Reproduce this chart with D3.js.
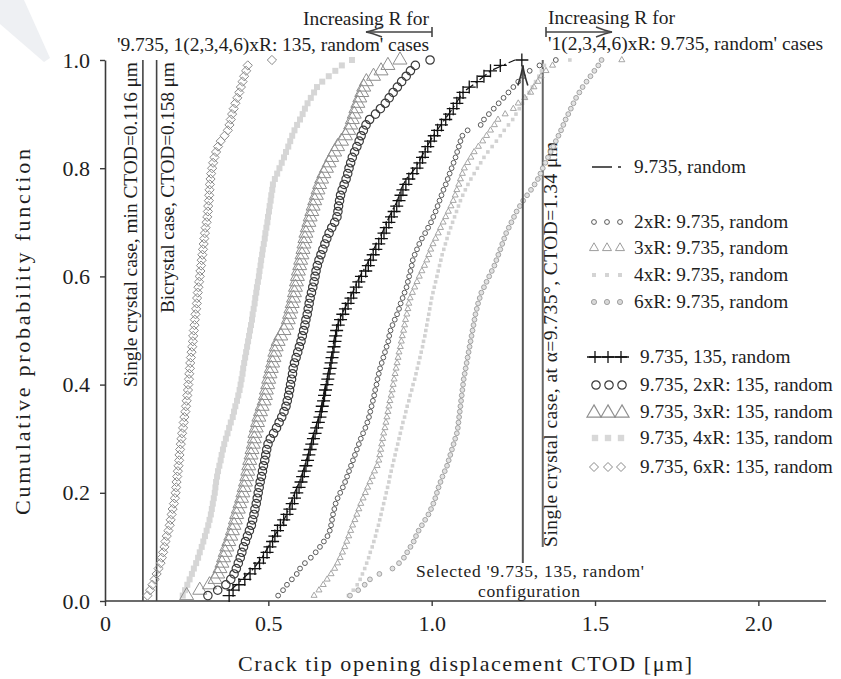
<!DOCTYPE html>
<html><head><meta charset="utf-8">
<script src="https://cdn.jsdelivr.net/npm/d3@7"></script>
<style>
body{margin:0;background:#fff}
svg{display:block}
text{font-family:"Liberation Serif","DejaVu Serif",serif;fill:#1e1e1e}
</style>
</head><body>
<svg id="c" width="841" height="679"></svg>
<script>
// ---------------- data ----------------
const xTicks = [0, 0.5, 1.0, 1.5, 2.0];
const yTicks = [0, 0.2, 0.4, 0.6, 0.8, 1.0];

// CTOD samples (sorted) per configuration; the CDF of sample i is (i+1)/n
const s6xR135 = [0.130,0.138,0.145,0.152,0.158,0.164,0.170,0.174,0.178,0.182,0.185,0.189,0.194,0.198,0.201,0.204,0.207,0.211,0.214,0.216,0.218,0.219,0.221,0.223,0.225,0.227,0.228,0.230,0.232,0.234,0.236,0.239,0.241,0.243,0.246,0.248,0.250,0.252,0.254,0.255,0.257,0.258,0.260,0.261,0.263,0.265,0.267,0.269,0.270,0.272,0.274,0.275,0.277,0.279,0.281,0.282,0.284,0.286,0.288,0.290,0.292,0.294,0.296,0.298,0.300,0.302,0.304,0.306,0.308,0.311,0.313,0.315,0.316,0.318,0.319,0.320,0.321,0.323,0.325,0.328,0.331,0.335,0.340,0.346,0.354,0.366,0.376,0.381,0.385,0.389,0.394,0.399,0.405,0.411,0.416,0.421,0.426,0.432,0.437,0.511];
const s4xR135 = [0.238,0.245,0.252,0.259,0.266,0.272,0.279,0.285,0.290,0.296,0.301,0.306,0.311,0.316,0.320,0.324,0.327,0.330,0.333,0.336,0.338,0.340,0.343,0.346,0.350,0.354,0.357,0.361,0.365,0.370,0.375,0.380,0.385,0.391,0.395,0.399,0.404,0.408,0.412,0.415,0.418,0.421,0.423,0.426,0.429,0.432,0.435,0.438,0.441,0.444,0.447,0.450,0.452,0.455,0.458,0.460,0.463,0.465,0.468,0.471,0.473,0.476,0.478,0.481,0.483,0.486,0.489,0.491,0.494,0.497,0.499,0.502,0.504,0.507,0.509,0.512,0.514,0.520,0.527,0.534,0.541,0.548,0.554,0.561,0.567,0.573,0.580,0.588,0.597,0.605,0.612,0.620,0.630,0.640,0.649,0.665,0.685,0.705,0.725,0.756];
const s3xR135 = [0.250,0.290,0.320,0.337,0.345,0.352,0.358,0.363,0.368,0.373,0.379,0.385,0.390,0.395,0.399,0.403,0.408,0.413,0.418,0.422,0.426,0.430,0.434,0.437,0.440,0.443,0.447,0.450,0.454,0.457,0.459,0.463,0.467,0.471,0.476,0.481,0.487,0.491,0.494,0.498,0.501,0.505,0.509,0.513,0.517,0.520,0.524,0.530,0.538,0.548,0.556,0.561,0.565,0.569,0.573,0.577,0.580,0.583,0.586,0.589,0.592,0.596,0.599,0.603,0.606,0.609,0.612,0.615,0.619,0.624,0.628,0.633,0.637,0.642,0.647,0.652,0.657,0.663,0.670,0.678,0.686,0.694,0.703,0.712,0.724,0.736,0.746,0.752,0.757,0.763,0.768,0.774,0.780,0.786,0.792,0.800,0.822,0.845,0.866,0.903];
const s2xR135 = [0.315,0.345,0.370,0.385,0.395,0.402,0.408,0.414,0.419,0.424,0.430,0.436,0.442,0.448,0.452,0.456,0.459,0.463,0.466,0.469,0.472,0.475,0.479,0.482,0.485,0.489,0.492,0.495,0.499,0.506,0.516,0.525,0.533,0.541,0.548,0.554,0.558,0.562,0.565,0.568,0.571,0.574,0.576,0.580,0.585,0.590,0.595,0.600,0.604,0.608,0.612,0.615,0.619,0.622,0.625,0.628,0.632,0.636,0.640,0.643,0.646,0.650,0.655,0.661,0.667,0.673,0.679,0.686,0.694,0.703,0.710,0.713,0.715,0.718,0.721,0.726,0.732,0.738,0.743,0.747,0.752,0.757,0.764,0.771,0.778,0.784,0.791,0.799,0.810,0.828,0.843,0.858,0.870,0.882,0.895,0.908,0.922,0.935,0.950,0.995];
const s135 = [0.380,0.392,0.410,0.428,0.444,0.459,0.473,0.485,0.496,0.505,0.513,0.520,0.528,0.537,0.547,0.557,0.566,0.573,0.580,0.587,0.594,0.600,0.605,0.610,0.615,0.620,0.624,0.628,0.633,0.638,0.643,0.648,0.653,0.658,0.662,0.665,0.669,0.672,0.675,0.679,0.682,0.686,0.689,0.692,0.695,0.698,0.701,0.704,0.706,0.709,0.714,0.721,0.728,0.736,0.744,0.753,0.761,0.769,0.777,0.785,0.798,0.806,0.813,0.821,0.829,0.838,0.846,0.854,0.861,0.869,0.877,0.885,0.893,0.900,0.906,0.912,0.921,0.930,0.942,0.955,0.964,0.972,0.980,0.988,0.997,1.008,1.018,1.030,1.043,1.055,1.066,1.077,1.086,1.096,1.115,1.139,1.160,1.180,1.210,1.276];
const sRandom = [0.385,0.420,0.455,0.480,0.500,0.518,0.540,0.556,0.568,0.580,0.595,0.606,0.616,0.626,0.634,0.644,0.654,0.662,0.668,0.675,0.682,0.689,0.695,0.700,0.706,0.718,0.733,0.750,0.765,0.780,0.800,0.815,0.830,0.848,0.862,0.878,0.895,0.905,0.922,0.950,0.968,0.985,1.005,1.028,1.052,1.075,1.095,1.140,1.180,1.255];
const s2xR9735 = [0.530,0.545,0.557,0.572,0.587,0.597,0.612,0.630,0.645,0.658,0.670,0.681,0.688,0.692,0.695,0.698,0.702,0.706,0.712,0.720,0.728,0.735,0.741,0.747,0.753,0.759,0.765,0.771,0.777,0.783,0.790,0.797,0.803,0.808,0.812,0.816,0.820,0.824,0.827,0.831,0.834,0.838,0.842,0.847,0.852,0.857,0.862,0.867,0.870,0.874,0.880,0.887,0.894,0.900,0.905,0.911,0.917,0.923,0.927,0.931,0.935,0.939,0.942,0.948,0.955,0.962,0.970,0.980,0.989,0.998,1.005,1.012,1.018,1.024,1.030,1.036,1.043,1.049,1.055,1.061,1.067,1.073,1.078,1.083,1.088,1.094,1.110,1.150,1.160,1.175,1.190,1.205,1.220,1.235,1.250,1.265,1.280,1.300,1.330,1.380];
const s3xR9735 = [0.640,0.655,0.668,0.680,0.692,0.703,0.712,0.720,0.727,0.734,0.740,0.746,0.752,0.758,0.765,0.771,0.777,0.783,0.790,0.797,0.804,0.811,0.818,0.825,0.833,0.838,0.841,0.844,0.847,0.850,0.853,0.857,0.860,0.863,0.866,0.869,0.872,0.876,0.879,0.882,0.885,0.888,0.891,0.894,0.897,0.900,0.904,0.907,0.910,0.914,0.917,0.920,0.924,0.927,0.930,0.934,0.941,0.948,0.955,0.962,0.970,0.978,0.985,0.991,0.997,1.004,1.012,1.020,1.027,1.035,1.043,1.051,1.059,1.066,1.072,1.077,1.083,1.088,1.094,1.100,1.110,1.120,1.130,1.143,1.156,1.168,1.180,1.192,1.203,1.225,1.250,1.265,1.285,1.303,1.313,1.325,1.335,1.350,1.370,1.582];
const s4xR9735 = [0.745,0.760,0.772,0.781,0.788,0.795,0.801,0.807,0.812,0.818,0.823,0.828,0.832,0.837,0.841,0.845,0.849,0.853,0.857,0.861,0.865,0.869,0.872,0.876,0.880,0.884,0.888,0.892,0.896,0.900,0.904,0.908,0.912,0.917,0.921,0.925,0.930,0.934,0.939,0.943,0.948,0.952,0.956,0.960,0.964,0.968,0.972,0.975,0.979,0.982,0.985,0.988,0.991,0.994,0.997,1.000,1.004,1.008,1.012,1.016,1.020,1.024,1.028,1.032,1.037,1.042,1.047,1.052,1.058,1.064,1.070,1.076,1.082,1.088,1.095,1.103,1.111,1.120,1.130,1.140,1.150,1.160,1.172,1.185,1.198,1.210,1.222,1.235,1.248,1.258,1.268,1.278,1.288,1.298,1.308,1.318,1.328,1.336,1.345,1.423];
const s6xR9735 = [0.750,0.775,0.795,0.811,0.840,0.880,0.900,0.915,0.925,0.935,0.945,0.952,0.960,0.970,0.980,0.990,0.998,1.005,1.011,1.016,1.021,1.027,1.033,1.040,1.047,1.052,1.057,1.062,1.067,1.072,1.077,1.080,1.082,1.084,1.086,1.088,1.090,1.092,1.094,1.096,1.098,1.101,1.104,1.107,1.110,1.113,1.116,1.119,1.122,1.125,1.128,1.131,1.134,1.138,1.142,1.147,1.152,1.160,1.168,1.176,1.184,1.192,1.198,1.204,1.210,1.216,1.222,1.228,1.236,1.244,1.252,1.260,1.270,1.280,1.292,1.304,1.315,1.325,1.333,1.340,1.348,1.356,1.364,1.372,1.380,1.388,1.396,1.403,1.410,1.418,1.426,1.434,1.442,1.452,1.462,1.474,1.486,1.498,1.510,1.520];

// reference vertical lines
const refLines = [
  {v:0.116, label:"Single crystal case, min CTOD=0.116 \u03BCm"},
  {v:0.158, label:"Bicrystal case, CTOD=0.158 \u03BCm"},
  {v:1.34,  label:"Single crystal case, at \u03B1=9.735\u00B0, CTOD=1.34 \u03BCm"}
];
const selectedCTOD = 1.279;

const legendLabels1 = ["9.735, random","2xR: 9.735, random","3xR: 9.735, random","4xR: 9.735, random","6xR: 9.735, random"];
const legendLabels2 = ["9.735, 135, random","9.735, 2xR: 135, random","9.735, 3xR: 135, random","9.735, 4xR: 135, random","9.735, 6xR: 135, random"];

// ---------------- drawing ----------------
const svg = d3.select("#c");
const x = d3.scaleLinear().domain([0, 2.2]).range([105, 823.7]);
const y = d3.scaleLinear().domain([0, 1]).range([601, 60]);

// faint page shading at the top-left corner
svg.append("path").attr("d","M0,0L24,0L50,58L44,62L0,24Z").attr("fill","#eef0f3");

function markerPath(type, s){
  if(type==="plus") return `M${-s},0H${s}M0,${-s}V${s}`;
  if(type==="circle") return `M${-s},0a${s},${s} 0 1,0 ${2*s},0a${s},${s} 0 1,0 ${-2*s},0Z`;
  if(type==="tri"){const h=s*Math.sqrt(3)/2;return `M0,${-2*h/3}L${s/2},${h/3}L${-s/2},${h/3}Z`;}
  if(type==="diamond") return `M0,${-s}L${s},0L0,${s}L${-s},0Z`;
  if(type==="square") return `M${-s},${-s}h${2*s}v${2*s}h${-2*s}Z`;
  return "";
}

const series = [
  {data:s4xR9735, type:"square", size:1.8, stroke:"none", fill:"#d2d2d2", sw:0},
  {data:s4xR135,  type:"square", size:3,   stroke:"none", fill:"#d6d6d6", sw:0},
  {data:s6xR9735, type:"circle", size:2.4, stroke:"#9a9a9a", fill:"#e2e2e2", sw:0.9},
  {data:s3xR9735, type:"tri",    size:6,   stroke:"#9c9c9c", fill:"none", sw:0.9},
  {data:s6xR135,  type:"diamond",size:4.6, stroke:"#8a8a8a", fill:"none", sw:1},
  {data:s3xR135,  type:"tri",    size:14,  stroke:"#8e8e8e", fill:"none", sw:1},
  {data:s2xR9735, type:"circle", size:2.4, stroke:"#5a5a5a", fill:"none", sw:1},
  {data:s2xR135,  type:"circle", size:4.2, stroke:"#3a3a3a", fill:"none", sw:1.2},
  {data:s135,     type:"plus",   size:6.5, stroke:"#111",    fill:"none", sw:1.3}
];

// axes
const gx = svg.append("g").attr("transform","translate(0,601)")
  .call(d3.axisBottom(x).tickValues(xTicks).tickSize(5).tickSizeOuter(0).tickPadding(9)
    .tickFormat(d => d===0 ? "0" : d.toFixed(1)));
const gy = svg.append("g").attr("transform","translate(105,0)")
  .call(d3.axisLeft(y).tickValues(yTicks).tickSize(5).tickSizeOuter(0).tickPadding(10)
    .tickFormat(d => d.toFixed(1)));
[gx,gy].forEach(g=>{
  g.select(".domain").attr("stroke","#3a3a3a").attr("stroke-width",1.6);
  g.selectAll(".tick line").attr("stroke","#3a3a3a").attr("stroke-width",1.4);
  g.selectAll("text").attr("font-size",22).attr("fill","#2a2a2a")
    .attr("font-family","Liberation Serif, serif");
});
gx.select(".domain").attr("d","M105,0H826");

svg.append("text").attr("x",465).attr("y",671).attr("text-anchor","middle")
  .attr("font-size",22).attr("textLength",454).attr("lengthAdjust","spacing")
  .text("Crack tip opening displacement CTOD [\u03BCm]");
svg.append("text").attr("transform","translate(30,332) rotate(-90)").attr("text-anchor","middle")
  .attr("font-size",22).attr("textLength",366).attr("lengthAdjust","spacing")
  .text("Cumulative probability function");

// reference lines with rotated labels
const refG = svg.append("g");
refG.append("line").attr("x1",x(refLines[0].v)).attr("x2",x(refLines[0].v)).attr("y1",y(1)).attr("y2",y(0))
  .attr("stroke","#444").attr("stroke-width",1.6);
refG.append("line").attr("x1",x(refLines[1].v)).attr("x2",x(refLines[1].v)).attr("y1",y(1)).attr("y2",y(0))
  .attr("stroke","#444").attr("stroke-width",1.6);
refG.append("line").attr("x1",x(refLines[2].v)).attr("x2",x(refLines[2].v)).attr("y1",y(1)).attr("y2",y(0.1))
  .attr("stroke","#666").attr("stroke-width",2);
refG.append("text").attr("transform",`translate(${x(refLines[0].v)-6},${y(1)+2}) rotate(-90)`)
  .attr("text-anchor","end").attr("font-size",19.5).attr("textLength",325).attr("lengthAdjust","spacing")
  .text(refLines[0].label);
refG.append("text").attr("transform",`translate(${x(refLines[1].v)+17},${y(1)+2}) rotate(-90)`)
  .attr("text-anchor","end").attr("font-size",19.5).attr("textLength",251).attr("lengthAdjust","spacing")
  .text(refLines[1].label);
refG.append("text").attr("transform",`translate(${x(refLines[2].v)+14},${y(0.1)}) rotate(-90)`)
  .attr("text-anchor","start").attr("font-size",19.5).attr("textLength",405).attr("lengthAdjust","spacing")
  .text(refLines[2].label);

// series markers
series.forEach(s=>{
  const n = s.data.length;
  svg.append("g").selectAll("path").data(s.data).join("path")
    .attr("transform",(d,i)=>`translate(${x(d)},${y((i+1)/n)})`)
    .attr("d",markerPath(s.type,s.size))
    .attr("fill",s.fill).attr("stroke",s.stroke).attr("stroke-width",s.sw);
});
// dash-dot line "9.735, random"
const nR = sRandom.length;
svg.append("path").datum(sRandom)
  .attr("d", d3.line().x(d=>x(d)).y((d,i)=>y((i+1)/nR)))
  .attr("fill","none").attr("stroke","#111").attr("stroke-width",1.2)
  .attr("stroke-dasharray","9,3,2,3");

// selected arrow
const ax = x(selectedCTOD);
svg.append("line").attr("x1",ax).attr("x2",ax).attr("y1",563).attr("y2",y(0.99))
  .attr("stroke","#555").attr("stroke-width",2);
svg.append("path").attr("d",`M${ax-5},${y(0.99)+20}Q${ax-1},${y(0.99)+8} ${ax},${y(0.99)}Q${ax+1},${y(0.99)+8} ${ax+5},${y(0.99)+20}`)
  .attr("fill","none").attr("stroke","#333").attr("stroke-width",1.6);
svg.append("text").attr("x",530).attr("y",577).attr("text-anchor","middle").attr("font-size",17.5)
  .attr("textLength",228).attr("lengthAdjust","spacing")
  .text("Selected '9.735, 135, random'");
svg.append("text").attr("x",529).attr("y",597).attr("text-anchor","middle").attr("font-size",17.5)
  .attr("textLength",102).attr("lengthAdjust","spacing")
  .text("configuration");

// top annotations
function hArrow(x0,x1,yy){
  const dir = Math.sign(x1-x0);
  svg.append("line").attr("x1",x0).attr("x2",x1).attr("y1",yy).attr("y2",yy).attr("stroke","#444").attr("stroke-width",1.6);
  svg.append("line").attr("x1",x0).attr("x2",x0).attr("y1",yy-5).attr("y2",yy+5).attr("stroke","#444").attr("stroke-width",1.6);
  svg.append("path").attr("d",`M${x1-dir*16},${yy-5}Q${x1-dir*6},${yy-1} ${x1},${yy}Q${x1-dir*6},${yy+1} ${x1-dir*16},${yy+5}`)
    .attr("fill","none").attr("stroke","#444").attr("stroke-width",1.4);
}
svg.append("text").attr("x",429).attr("y",25).attr("text-anchor","end").attr("font-size",19.5)
  .attr("textLength",126).attr("lengthAdjust","spacing").text("Increasing R for");
hArrow(432,366,32);
svg.append("text").attr("x",429).attr("y",51).attr("text-anchor","end").attr("font-size",19.5)
  .attr("textLength",312).attr("lengthAdjust","spacing")
  .text("'9.735, 1(2,3,4,6)xR: 135, random' cases");
svg.append("text").attr("x",548).attr("y",24).attr("text-anchor","start").attr("font-size",19.5)
  .attr("textLength",127).attr("lengthAdjust","spacing").text("Increasing R for");
hArrow(546,612,32);
svg.append("text").attr("x",548).attr("y",50).attr("text-anchor","start").attr("font-size",19.5)
  .attr("textLength",275).attr("lengthAdjust","spacing")
  .text("'1(2,3,4,6)xR: 9.735, random' cases");

// legend
const lg = svg.append("g");
const l1y = [167,222,248,275,302];
const l2y = [357,385,412,438,467];
legendLabels1.forEach((t,i)=>lg.append("text").attr("x",634).attr("y",l1y[i]+6).attr("font-size",19.3).text(t));
legendLabels2.forEach((t,i)=>lg.append("text").attr("x",640).attr("y",l2y[i]+6).attr("font-size",19.3).text(t));
lg.append("line").attr("x1",592).attr("x2",612).attr("y1",l1y[0]).attr("y2",l1y[0]).attr("stroke","#111").attr("stroke-width",1.4);
lg.append("line").attr("x1",618).attr("x2",621).attr("y1",l1y[0]).attr("y2",l1y[0]).attr("stroke","#111").attr("stroke-width",1.4);
const lm1 = [
  {type:"circle",size:2.4,stroke:"#5a5a5a",fill:"none",sw:1},
  {type:"tri",size:9,stroke:"#9c9c9c",fill:"none",sw:1},
  {type:"square",size:2,stroke:"none",fill:"#d4d4d4",sw:0},
  {type:"circle",size:2.6,stroke:"#9a9a9a",fill:"#d8d8d8",sw:0.9}
];
lm1.forEach((m,i)=>[594,607,620].forEach(px=>lg.append("path").attr("transform",`translate(${px},${l1y[i+1]})`)
  .attr("d",markerPath(m.type,m.size)).attr("fill",m.fill).attr("stroke",m.stroke).attr("stroke-width",m.sw)));
lg.append("line").attr("x1",587).attr("x2",629).attr("y1",l2y[0]).attr("y2",l2y[0]).attr("stroke","#111").attr("stroke-width",1.3);
const lm2 = [
  {type:"plus",size:6,stroke:"#111",fill:"none",sw:1.3,xs:[595,608,621]},
  {type:"circle",size:4.2,stroke:"#3a3a3a",fill:"none",sw:1.2,xs:[596,609,622]},
  {type:"tri",size:14,stroke:"#8e8e8e",fill:"none",sw:1.2,xs:[594,608,622]},
  {type:"square",size:3.2,stroke:"none",fill:"#d8d8d8",sw:0,xs:[595,608,621]},
  {type:"diamond",size:4.5,stroke:"#8a8a8a",fill:"none",sw:1,xs:[594,608,621]}
];
lm2.forEach((m,i)=>m.xs.forEach(px=>lg.append("path").attr("transform",`translate(${px},${l2y[i]+(m.type==="tri"?1:0)})`)
  .attr("d",markerPath(m.type,m.size)).attr("fill",m.fill).attr("stroke",m.stroke).attr("stroke-width",m.sw)));
</script>
</body></html>
